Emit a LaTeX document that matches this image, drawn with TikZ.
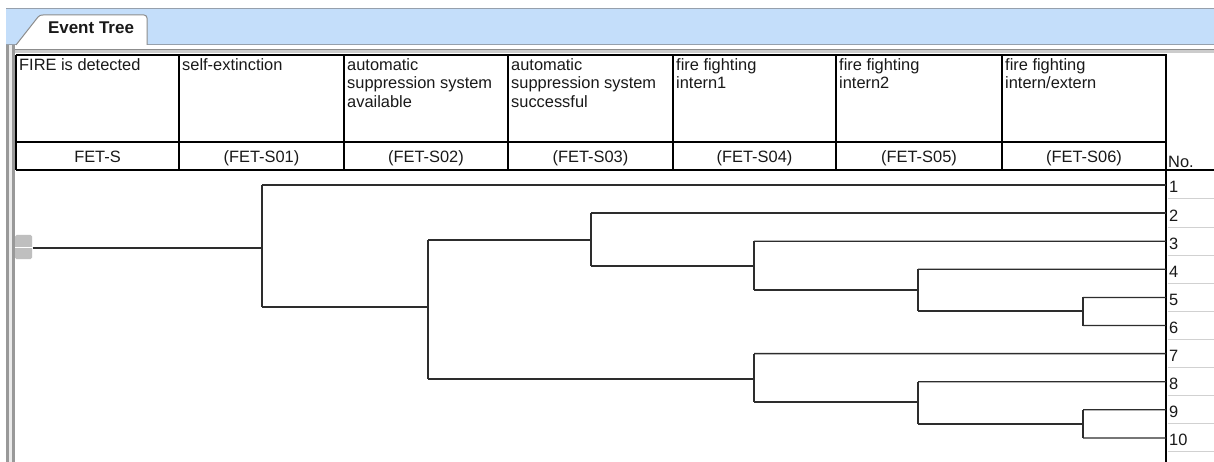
\documentclass[tikz,border=0pt]{standalone}
\usepackage{fontspec}
\setmainfont{Liberation Sans}
\definecolor{band}{RGB}{196,222,250}
\definecolor{bandline}{RGB}{150,160,172}
\definecolor{txt}{RGB}{25,25,25}
\definecolor{treeline}{RGB}{45,45,45}
\begin{document}
\begin{tikzpicture}[x=1pt,y=-1pt,
  hdr/.style={anchor=base west,inner sep=0pt,text=txt,font=\fontsize{16.4}{18.6}\selectfont},
  code/.style={anchor=base,inner sep=0pt,text=txt,font=\fontsize{16.4}{18.6}\selectfont},
  num/.style={anchor=base west,inner sep=0pt,text=txt,font=\fontsize{16.4}{18.6}\selectfont},
  grid/.style={draw=black,line width=1.4pt},
  tl/.style={draw=treeline,line width=1.3pt},
  sep/.style={draw=black!18,line width=1pt}]
\useasboundingbox (0,0) rectangle (1214,462);
\clip (0,0) rectangle (1214,462);
% window band
\fill[band] (6,8) rectangle (1214,45);
\draw[bandline,line width=1pt] (6,8.5) -- (1214,8.5);
\draw[bandline,line width=1pt] (6,44.5) -- (1214,44.5);
\fill[black!20] (6,49) rectangle (1214,53);
\draw[black!45,line width=0.8pt] (6,49) -- (1214,49);
% left frame
\fill[black!40] (6,45) rectangle (15,462);
\fill[black!8] (9,45) rectangle (12,462);
% tab
\draw[black!45,fill=white,line width=1pt] (16,45) -- (38,17) to[out=50,in=180] (43,15) -- (144,15) to[out=0,in=90] (147,18) -- (147,45);
\node[anchor=base,inner sep=0pt,font=\bfseries\fontsize{17}{19}\selectfont,text=txt] (tab) at (91,34) {Event Tree};
% table white area
\fill[white] (15,53) rectangle (1214,462);
% header grid
\draw[grid] (16,55) -- (1166,55);
\draw[grid] (16,142) -- (1166,142);
\draw[grid] (16,170) -- (1214,170);
\foreach \x in {16,179,344,508,673,836,1002} \draw[grid] (\x,55) -- (\x,170);
\draw[draw=black,line width=2.4pt] (1166,54.3) -- (1166,462);
% header texts
\node[hdr] (h0) at (19,71) {FIRE is detected};
\node[hdr] (h1) at (182,71) {self-extinction};
\node[hdr,align=left,anchor=north west] (h2) at (347,58) {automatic\\suppression system\\available};
\node[hdr,align=left,anchor=north west] (h3) at (511,58) {automatic\\suppression system\\successful};
\node[hdr,align=left,anchor=north west] (h4) at (676,58) {fire fighting\\intern1};
\node[hdr,align=left,anchor=north west] (h5) at (839,58) {fire fighting\\intern2};
\node[hdr,align=left,anchor=north west] (h6) at (1005,58) {fire fighting\\intern/extern};
\node[code] (c0) at (97.5,163) {FET-S};
\node[code] (c1) at (261.5,163) {(FET-S01)};
\node[code] (c2) at (426,163) {(FET-S02)};
\node[code] (c3) at (590.5,163) {(FET-S03)};
\node[code] (c4) at (754.5,163) {(FET-S04)};
\node[code] (c5) at (919,163) {(FET-S05)};
\node[code] (c6) at (1084,163) {(FET-S06)};
\node[num] (no) at (1168,168) {No.};
% outcome rows
\foreach \i in {1,...,10} {
  \pgfmathsetmacro{\yy}{185+28.1*(\i-1)}
  \coordinate (o\i) at (1166,\yy);
  \node[num] (n\i) at (1169,\yy+8) {\i};
  \draw[sep] (1167.5,\yy+14) -- (1214,\yy+14);
}
% initiating event marker
\fill[black!25,rounded corners=1.5pt] (15,235) rectangle (32,259);
\draw[white,line width=1pt] (15,247.3) -- (32,247.3);
% fork coordinates
\coordinate (s) at (33,248);
\coordinate (f1t) at (262,185);    \coordinate (f1b) at (262,307);
\coordinate (f2t) at (428,240);    \coordinate (f2b) at (428,379);
\coordinate (f3t) at (591,213.1);  \coordinate (f3b) at (591,266);
\coordinate (f4t) at (754,241.2);  \coordinate (f4b) at (754,290);
\coordinate (f5t) at (918,269.3);  \coordinate (f5b) at (918,311);
\coordinate (f6t) at (1083,297.4); \coordinate (f6b) at (1083,325.5);
\coordinate (f7t) at (754,353.6);  \coordinate (f7b) at (754,402);
\coordinate (f8t) at (918,381.7);  \coordinate (f8b) at (918,424);
\coordinate (f9t) at (1083,409.8); \coordinate (f9b) at (1083,437.9);
% tree
\draw[tl] (s) -- (s -| f1t);
\foreach \k in {1,...,9} \draw[tl] (f\k t) -- (f\k b);
\draw[tl] (f1t) -- (o1);
\draw[tl] (f1b) -- (f1b -| f2t);
\draw[tl] (f2t) -- (f2t -| f3t);
\draw[tl] (f2b) -- (f2b -| f7t);
\draw[tl] (f3t) -- (o2);
\draw[tl] (f3b) -- (f3b -| f4t);
\draw[tl] (f4t) -- (o3);
\draw[tl] (f4b) -- (f4b -| f5t);
\draw[tl] (f5t) -- (o4);
\draw[tl] (f5b) -- (f5b -| f6t);
\draw[tl] (f6t) -- (o5);
\draw[tl] (f6b) -- (o6);
\draw[tl] (f7t) -- (o7);
\draw[tl] (f7b) -- (f7b -| f8t);
\draw[tl] (f8t) -- (o8);
\draw[tl] (f8b) -- (f8b -| f9t);
\draw[tl] (f9t) -- (o9);
\draw[tl] (f9b) -- (o10);
\end{tikzpicture}
\end{document}
